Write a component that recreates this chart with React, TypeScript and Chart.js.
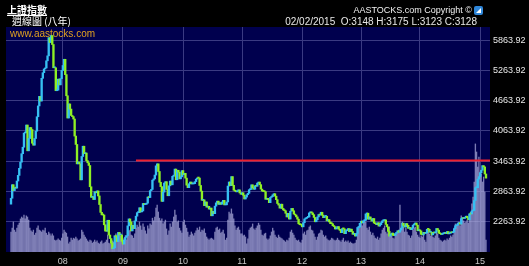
import React, { useEffect, useRef } from "react";
import { Chart, registerables } from "chart.js";

Chart.register(...registerables);

// Weekly closes of the Shanghai Composite, one array per calendar year
const close2007 = [
  2730, 2998, 2881, 2937, 2930, 3071, 3183, 3323, 3444, 3612,
  3741, 4022, 4030, 4181, 3670, 3913, 4131, 4091, 3820, 3781,
  3914, 4058, 4345, 4560, 4749, 4656, 5107, 5218, 5293, 5312,
  5454, 5552, 5913, 5818, 5955, 5777, 5316, 5316, 4861, 4872,
  5091, 4977, 5101, 5262,
];
const close2008 = [
  5361, 5484, 5180, 4761, 4320, 4599, 4497, 4370, 4348, 4300,
  3962, 3796, 3411, 3447, 3412, 3094, 3557, 3761, 3613, 3626,
  3474, 3433, 3379, 2957, 2748, 2760, 2704, 2858, 2838, 2875,
  2775, 2605, 2450, 2400, 2397, 2203, 2079, 2075, 2293, 2000,
  1930, 1838, 1728, 1747, 1986, 1970, 1871, 2052, 2001, 2001,
  1875,
];
const close2009 = [
  1821, 1904, 1954, 1990, 2182, 2320, 2261, 2082, 2193, 2128,
  2281, 2374, 2444, 2444, 2541, 2459, 2477, 2626, 2604, 2610,
  2632, 2753, 2743, 2880, 2904, 3088, 3113, 3189, 3372, 3412,
  3260, 3046, 2960, 2667, 2851, 3031, 3058, 2905, 2779, 2976,
  3070, 2996, 3164, 3187, 3308, 3096, 3284, 3247, 3114, 3154,
  3277,
];
const close2010 = [
  3196, 3224, 3128, 2989, 2939, 3018, 3051, 3013, 3014, 3019,
  3059, 3109, 3131, 3130, 2983, 2871, 2688, 2697, 2583, 2656,
  2553, 2569, 2514, 2535, 2382, 2470, 2424, 2573, 2638, 2672,
  2608, 2642, 2610, 2656, 2688, 2598, 2599, 2656, 2971, 3052,
  2979, 3159, 2985, 2888, 2871, 2857, 2878, 2895, 2835, 2808,
];
const close2011 = [
  2839, 2791, 2715, 2752, 2799, 2827, 2899, 2905, 2996, 2937,
  2907, 2978, 2967, 3030, 3050, 2999, 2911, 2872, 2865, 2859,
  2709, 2728, 2705, 2642, 2746, 2762, 2797, 2820, 2770, 2701,
  2626, 2594, 2534, 2612, 2528, 2497, 2482, 2432, 2359, 2431,
  2317, 2473, 2528, 2481, 2416, 2397, 2360, 2315, 2224, 2205,
  2199,
];
const close2012 = [
  2163, 2244, 2319, 2331, 2351, 2357, 2439, 2460, 2439, 2404,
  2349, 2263, 2302, 2359, 2406, 2397, 2452, 2394, 2344, 2370,
  2373, 2281, 2307, 2260, 2225, 2224, 2185, 2168, 2120, 2133,
  2168, 2116, 2093, 2047, 2128, 2123, 2027, 2086, 2104, 2128,
  2066, 2117, 2069, 2015, 2027, 1980, 2033, 2150, 2153, 2233,
];
const close2013 = [
  2276, 2242, 2284, 2291, 2419, 2433, 2314, 2359, 2318, 2278,
  2328, 2237, 2225, 2206, 2244, 2177, 2205, 2246, 2282, 2288,
  2301, 2210, 2162, 2073, 1979, 2007, 2039, 1992, 1991, 2029,
  2052, 2085, 2057, 2098, 2139, 2236, 2191, 2160, 2228, 2193,
  2133, 2149, 2106, 2135, 2197, 2220, 2238, 2196, 2085, 2101,
];
const close2014 = [
  2083, 2013, 2004, 2054, 2033, 2044, 2115, 2113, 2056, 2057,
  2004, 2047, 2041, 2058, 2130, 2097, 2036, 2026, 2011, 2026,
  2034, 2039, 2030, 2070, 2024, 2036, 2059, 2046, 2059, 2126,
  2185, 2194, 2226, 2240, 2217, 2326, 2331, 2329, 2347, 2374,
  2341, 2302, 2420, 2418, 2478, 2487, 2683, 2938, 2938, 3108,
  3157,
];
const close2015 = [3235, 3285, 3376, 3351, 3210, 3128];

// Weekly volume (億股)
const vol2007 = [
  520, 620, 780, 570, 520, 620, 700, 750, 860, 910,
  880, 960, 860, 940, 910, 830, 620, 550, 520, 570,
  440, 490, 620, 680, 570, 550, 520, 570, 550, 620,
  490, 440, 520, 470, 420, 470, 420, 310, 290, 310,
  340, 310, 290, 360,
];
const vol2008 = [
  470, 570, 520, 490, 390, 210, 260, 360, 310, 360,
  340, 390, 340, 290, 310, 340, 570, 520, 440, 390,
  340, 290, 260, 310, 290, 230, 260, 310, 260, 290,
  230, 210, 260, 290, 210, 230, 260, 310, 440, 230,
  210, 230, 290, 260, 390, 470, 360, 440, 490, 420,
  340,
];
const vol2009 = [
  260, 360, 420, 310, 470, 550, 570, 440, 420, 360,
  470, 620, 700, 650, 780, 680, 570, 730, 650, 550,
  470, 680, 600, 730, 700, 880, 810, 910, 1140, 1220,
  1040, 880, 810, 860, 730, 780, 830, 600, 440, 550,
  730, 650, 780, 910, 1090, 960, 780, 810, 620, 550,
  490,
];
const vol2010 = [
  780, 830, 700, 620, 520, 390, 440, 520, 470, 420,
  490, 550, 620, 570, 650, 520, 570, 550, 600, 490,
  390, 340, 310, 340, 360, 340, 310, 520, 620, 650,
  570, 600, 490, 520, 570, 470, 310, 360, 830, 1040,
  990, 1120, 990, 860, 680, 570, 620, 650, 570, 470,
];
const vol2011 = [
  470, 420, 440, 390, 210, 340, 570, 620, 650, 730,
  600, 570, 620, 680, 750, 700, 570, 440, 420, 470,
  490, 340, 310, 340, 420, 520, 620, 550, 440, 390,
  360, 440, 390, 360, 340, 310, 290, 260, 310, 290,
  360, 520, 570, 490, 440, 360, 310, 290, 310, 260,
  230,
];
const vol2012 = [
  310, 470, 520, 440, 550, 570, 650, 680, 570, 550,
  470, 390, 310, 390, 470, 490, 570, 550, 440, 390,
  420, 340, 310, 290, 310, 360, 340, 310, 290, 310,
  360, 310, 290, 260, 310, 360, 260, 290, 260, 290,
  230, 260, 230, 210, 210, 230, 310, 520, 650, 620,
];
const vol2013 = [
  730, 680, 780, 830, 780, 620, 570, 650, 520, 440,
  490, 420, 360, 340, 390, 310, 360, 470, 570, 620,
  680, 520, 470, 570, 650, 470, 420, 360, 340, 420,
  470, 520, 570, 1220, 570, 780, 650, 520, 620, 520,
  440, 420, 360, 420, 570, 620, 650, 520, 440, 390,
];
const vol2014 = [
  360, 420, 390, 440, 310, 260, 520, 570, 470, 420,
  440, 390, 360, 420, 520, 470, 360, 310, 290, 260,
  290, 310, 290, 340, 310, 360, 420, 390, 440, 620,
  730, 700, 750, 780, 680, 940, 860, 810, 750, 780,
  830, 750, 990, 1040, 1250, 1430, 1820, 2810, 2600, 2210,
  2470,
];
const vol2015 = [2080, 2030, 1820, 1950, 1560, 310];

const yearLabels = ["08", "09", "10", "11", "12", "13", "14", "15"];
const firstOpen = 2612;
const priceTicks = [2263.92, 2863.92, 3463.92, 4063.92, 4663.92, 5263.92, 5863.92];
const priceMin = 1663.92;
const priceMax = 6124.04;
const volumeMax = 5850;
const resistanceLevel = 3478.01;
const resistanceFromWeek = 106;

const closeYears = [close2007, close2008, close2009, close2010, close2011, close2012, close2013, close2014, close2015];
const volumeYears = [vol2007, vol2008, vol2009, vol2010, vol2011, vol2012, vol2013, vol2014, vol2015];

const LATIN = "'Liberation Sans', Arial, sans-serif";
const UP = "#36bff2";
const DOWN = "#8ef024";
const GRID = "#3a3a82";

export default function App() {
  const ref = useRef<HTMLCanvasElement>(null);

  useEffect(() => {
    const closes = closeYears.flat();
    const volumes = volumeYears.flat();
    const yearStarts: number[] = [];
    let acc = 0;
    closeYears.forEach((arr, k) => {
      if (k > 0) yearStarts.push(acc);
      acc += arr.length;
    });
    const n = closes.length;
    const xMin = -4.25;
    const xMax = n - 1 + 3.4;

    const opens = closes.map((c, i) => (i === 0 ? firstOpen : closes[i - 1]));
    const bodies = closes.map((c, i) => ({ x: i, y: [opens[i], c] }));
    const bodyColors = closes.map((c, i) => (c >= opens[i] ? UP : DOWN));
    const vols = volumes.map((v, i) => ({ x: i, y: v }));

    const bgPlugin = {
      id: "bg",
      beforeDraw(chart: any) {
        const { ctx, chartArea: a } = chart;
        ctx.save();
        ctx.fillStyle = "#000000";
        ctx.fillRect(0, 0, chart.width, chart.height);
        ctx.fillStyle = "#00004e";
        ctx.fillRect(a.left, a.top, a.right - a.left, a.bottom - a.top);
        ctx.restore();
      },
      beforeDatasetsDraw(chart: any) {
        const { ctx, chartArea: a } = chart;
        ctx.save();
        ctx.fillStyle = "#e0a020";
        ctx.font = `10px ${LATIN}`;
        ctx.textBaseline = "alphabetic";
        ctx.fillText("www.aastocks.com", a.left + 4, a.top + 10);
        ctx.restore();
      },
    };

    const chart = new Chart(ref.current!, {
      type: "bar",
      data: {
        datasets: [
          {
            type: "bar",
            data: vols as any,
            yAxisID: "yv",
            backgroundColor: "rgba(175,175,222,0.7)",
            barThickness: 0.7,
            grouped: false,
            order: 4,
          } as any,
          {
            type: "line",
            data: [
              { x: resistanceFromWeek, y: resistanceLevel },
              { x: xMax, y: resistanceLevel },
            ],
            yAxisID: "y",
            borderColor: "#ee2030",
            borderWidth: 2,
            pointRadius: 0,
            order: 3,
          } as any,
          {
            type: "bar",
            data: bodies as any,
            yAxisID: "y",
            backgroundColor: bodyColors,
            borderWidth: 0,
            barThickness: 1.7,
            minBarLength: 1,
            grouped: false,
            order: 1,
          } as any,
        ],
      },
      options: {
        animation: false,
        responsive: false,
        maintainAspectRatio: false,
        layout: { padding: { left: 6, top: 27, right: 0, bottom: 0 } },
        plugins: { legend: { display: false }, tooltip: { enabled: false }, title: { display: false } },
        scales: {
          x: {
            type: "linear",
            min: xMin,
            max: xMax,
            offset: false,
            afterBuildTicks: (s: any) => {
              s.ticks = yearStarts.map((v) => ({ value: v }));
            },
            afterFit: (s: any) => {
              s.height = 14;
            },
            grid: { color: GRID, drawTicks: false, offset: false, lineWidth: 1 },
            border: { display: false },
            ticks: {
              autoSkip: false,
              maxRotation: 0,
              padding: 4,
              color: "#c8c8c8",
              font: { family: LATIN, size: 9 },
              callback: (v: any) => {
                const k = yearStarts.indexOf(Number(v));
                return k >= 0 ? yearLabels[k] : "";
              },
            },
          },
          y: {
            type: "linear",
            position: "right",
            min: priceMin,
            max: priceMax,
            afterBuildTicks: (s: any) => {
              s.ticks = priceTicks.map((v) => ({ value: v }));
            },
            afterFit: (s: any) => {
              s.width = 39;
            },
            grid: { color: GRID, drawTicks: false, lineWidth: 1 },
            border: { display: false },
            ticks: {
              padding: 3,
              color: "#e8e8e8",
              font: { family: LATIN, size: 9 },
              callback: (v: any) => Number(v).toFixed(2),
            },
          },
          yv: {
            type: "linear",
            display: false,
            min: 0,
            max: volumeMax,
          },
        },
      } as any,
      plugins: [bgPlugin],
    });
    return () => chart.destroy();
  }, []);

  const cjk = "'Noto Sans CJK TC', 'Noto Sans CJK SC', sans-serif";
  return (
    <div style={{ position: "fixed", left: 0, top: 0, width: 529, height: 266, background: "#000", overflow: "hidden" }}>
      <canvas ref={ref} width={529} height={266} style={{ position: "absolute", left: 0, top: 0, width: 529, height: 266 }} />
      <div style={{ position: "absolute", left: 7, top: 4, color: "#fff", fontFamily: cjk, fontSize: 10, fontWeight: 700, lineHeight: "11px", textDecoration: "underline", whiteSpace: "nowrap" }}>
        上證指數
      </div>
      <div style={{ position: "absolute", left: 12, top: 15, color: "#fff", fontFamily: cjk, fontSize: 10, lineHeight: "11px", whiteSpace: "nowrap" }}>
        週線圖 (八年)
      </div>
      <div style={{ position: "absolute", right: 57, top: 5, color: "#f0f0f0", fontFamily: LATIN, fontSize: 9, lineHeight: "10px", whiteSpace: "nowrap" }}>
        AASTOCKS.com Copyright ©
      </div>
      <div style={{ position: "absolute", left: 474, top: 6, width: 9, height: 9, background: "#2f86d8", borderRadius: 2 }}>
        <div style={{ position: "absolute", left: 2, top: 2, width: 0, height: 0, borderLeft: "5px solid transparent", borderBottom: "5px solid #fff" }} />
      </div>
      <div style={{ position: "absolute", right: 52, top: 16, color: "#e8e8e8", fontFamily: LATIN, fontSize: 10, lineHeight: "11px", whiteSpace: "pre" }}>
        {"02/02/2015  O:3148 H:3175 L:3123 C:3128"}
      </div>
    </div>
  );
}
